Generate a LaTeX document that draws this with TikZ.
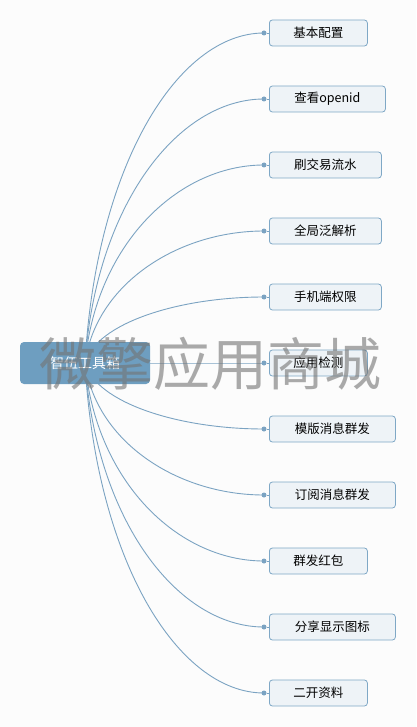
\documentclass[tikz,border=0pt]{standalone}
\usepackage{fontspec}
\setmainfont{Noto Sans CJK SC}
\definecolor{linec}{HTML}{7BA3C2}
\definecolor{rootc}{HTML}{6E9EC0}
\definecolor{childfill}{HTML}{EEF3F7}
\definecolor{childdraw}{HTML}{7FA8C6}
\definecolor{bgc}{HTML}{FCFCFC}
\begin{document}
\begin{tikzpicture}[x=1pt,y=-1pt,
  rootbox/.style={fill=rootc,rounded corners=4pt,minimum width=130pt,minimum height=42pt,text=white,font=\fontsize{14pt}{16pt}\selectfont,inner sep=0pt},
  childbox/.style={fill=childfill,draw=childdraw,line width=0.8pt,rounded corners=3pt,minimum height=26pt,anchor=west,font=\fontsize{12.5pt}{14pt}\selectfont,inner sep=0pt},
  branch/.style={draw=linec,line width=0.9pt},
  dotc/.style={circle,fill=linec,inner sep=0pt,minimum size=5pt},
  watermark/.style={text=black!55,opacity=0.6,font=\fontsize{57pt}{60pt}\selectfont,inner sep=0pt}]
\fill[bgc] (0,0) rectangle (416,727);
\useasboundingbox (0,0) rectangle (416,727);
\coordinate (o) at (85,363);
\foreach \i/\t/\w in {1/基本配置/98,2/查看openid/116,3/刷交易流水/112,4/全局泛解析/112,5/手机端权限/112,6/应用检测/98,7/模版消息群发/126,8/订阅消息群发/126,9/群发红包/98,10/分享显示图标/126,11/二开资料/98}{
  \pgfmathsetmacro{\yy}{33+66*(\i-1)}
  \pgfmathsetmacro{\cy}{363+0.6*(\yy-363)}
  \node[childbox,minimum width=\w pt] (c\i) at (269,\yy) {\t};
  \coordinate (d\i) at (264,\yy);
  \draw[branch] (o) .. controls (96,\cy) and (178,\yy) .. (d\i);
  \node[dotc] (dot\i) at (d\i) {};
  \draw[branch] (dot\i) -- (c\i.west);
}
\node[rootbox] (root) at (85,363) {智伍工具箱};
\node[watermark] (wm) at (210,364) {微擎应用商城};
\end{tikzpicture}
\end{document}
